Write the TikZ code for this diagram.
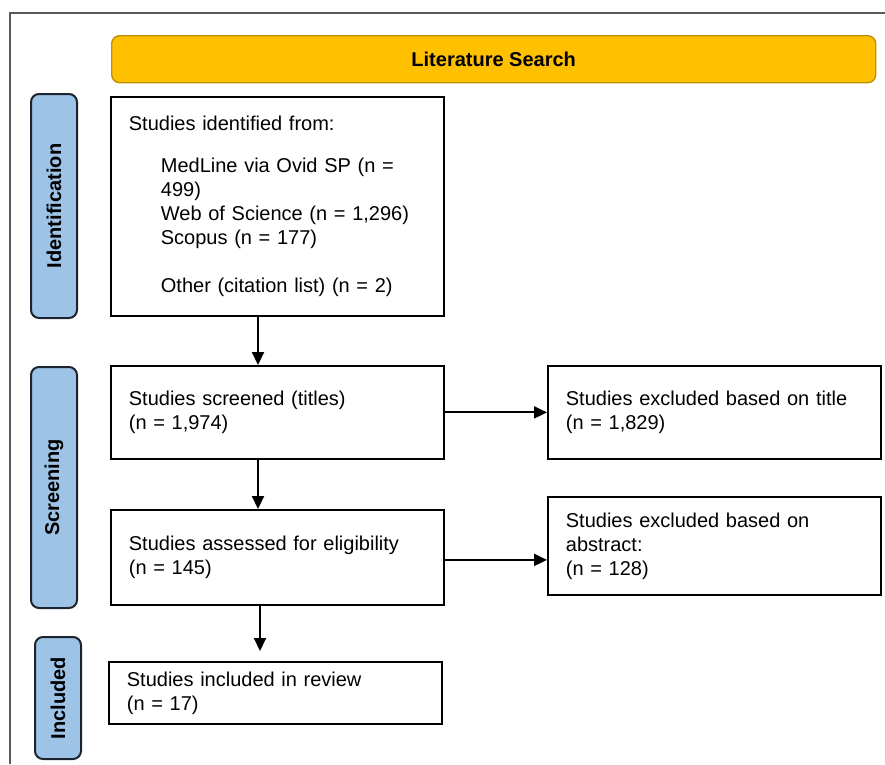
\documentclass[tikz,border=0pt]{standalone}
\usepackage{fontspec}
\setmainfont{Liberation Sans}
\usetikzlibrary{arrows.meta,calc}
\definecolor{hdrfill}{HTML}{FFC000}
\definecolor{hdrdraw}{HTML}{BF9000}
\definecolor{pillfill}{HTML}{9DC3E6}
\definecolor{pilldraw}{HTML}{1C2430}
\definecolor{framecol}{HTML}{5A5A5A}
\tikzset{
  box/.style={draw=black, line width=1.8pt, fill=white, minimum width=333pt,
    text width=297pt, inner xsep=18pt, inner ysep=0pt, align=left,
    font=\fontsize{20}{24}\selectfont, anchor=north west},
  pill/.style={draw=pilldraw, line width=2pt, fill=pillfill, rounded corners=8pt,
    minimum width=46pt, inner sep=0pt, anchor=north west},
  pilltxt/.style={rotate=90, font=\fontsize{20}{24}\selectfont\bfseries},
  hdr/.style={draw=hdrdraw, line width=1.4pt, fill=hdrfill, rounded corners=8pt,
    minimum width=764pt, minimum height=47pt, anchor=north west,
    font=\fontsize{20}{24}\selectfont\bfseries},
  arr/.style={line width=2pt, -{Triangle[length=13pt,width=12pt]}},
}
\begin{document}
\begin{tikzpicture}[x=1pt,y=-1pt]
\useasboundingbox (0,0) rectangle (885,764);
% frame
\draw[framecol, line width=1.5pt] (10,764) -- (10,13) -- (885,13);
% header
\node[hdr] (hdr) at (111,35) {Literature Search};
% phase pills
\node[pill, minimum height=224pt] (pid) at (30,93) {};
\node[pilltxt] (pidt) at (pid.center) {Identification};
\node[pill, minimum height=241pt] (pscr) at (30,366) {};
\node[pilltxt] (pscrt) at (pscr.center) {Screening};
\node[pill, minimum height=122pt] (pinc) at (34,636) {};
\node[pilltxt] (pinct) at (pinc.center) {Included};
% boxes
\node[box, minimum height=219pt] (id) at (110,96) {Studies identified from:\\[18pt]
\hspace*{32pt}MedLine via Ovid SP (n =\\
\hspace*{32pt}499)\\
\hspace*{32pt}Web of Science (n = 1,296)\\
\hspace*{32pt}Scopus (n = 177)\\[24pt]
\hspace*{32pt}Other (citation list) (n = 2)};
\node[box, minimum height=93pt] (scr) at (110,365) {Studies screened (titles)\\(n = 1,974)};
\node[box, minimum height=95pt] (ass) at (110,509) {Studies assessed for eligibility\\(n = 145)};
\node[box, minimum height=62pt] (inc) at (108,661) {Studies included in review\\(n = 17)};
\node[box, minimum height=93pt, minimum width=332pt] (ex1) at (547,365) {Studies excluded based on title\\(n = 1,829)};
\node[box, minimum height=98pt, minimum width=332pt] (ex2) at (547,496) {Studies excluded based on\\abstract:\\(n = 128)};
% connectors
\draw[arr] ([xshift=148pt]id.south west) -- ([xshift=148pt]scr.north west);
\draw[arr] ([xshift=148pt]scr.south west) -- ([xshift=148pt]ass.north west);
\draw[arr, shorten >=10pt] ([xshift=150pt]ass.south west) -- ([xshift=152pt]inc.north west);
\draw[arr] (scr.east) -- (scr.east -| ex1.west);
\draw[arr] ([yshift=-2.5pt]ass.east) -- ([yshift=-2.5pt]ass.east -| ex2.west);
\end{tikzpicture}
\end{document}
